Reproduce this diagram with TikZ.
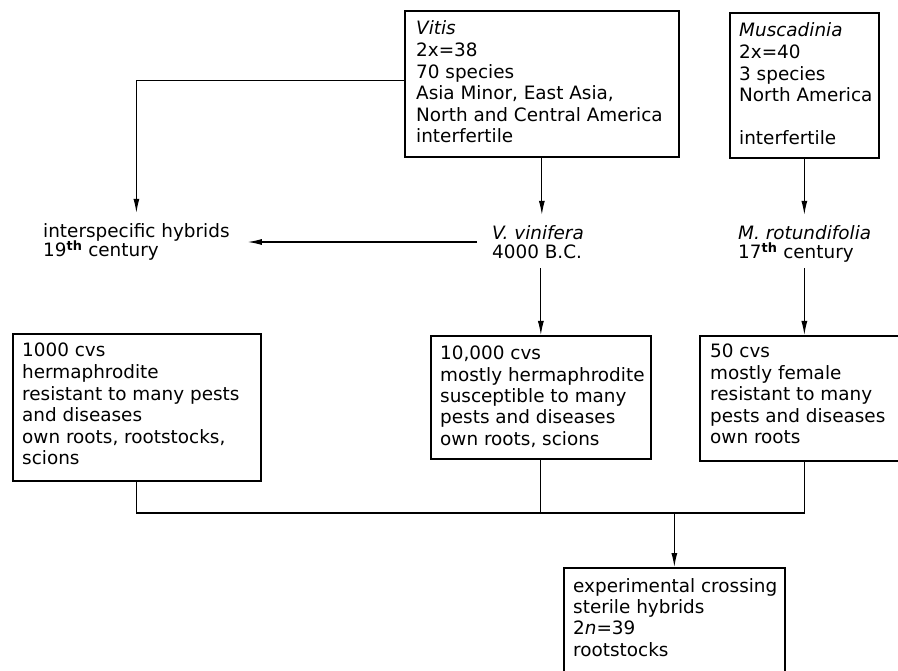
\documentclass[tikz,border=0pt]{standalone}
\usepackage{fontspec}
\setmainfont{DejaVu Sans}[ItalicFont={DejaVu Sans Oblique},BoldFont={DejaVu Sans Bold}]
\usetikzlibrary{arrows.meta,calc}
\newcommand\mlines[2]{\vtop{\baselineskip=#1\lineskiplimit=-50pt\lineskip=0pt\halign{##\hfil\cr#2\crcr}}}
\newcommand\supth{\textsuperscript{\bfseries th}}
\begin{document}
\begin{tikzpicture}[x=1pt,y=-1pt,
  boxnode/.style={draw,line width=1.7pt,inner sep=0pt,anchor=north west},
  txt/.style={inner sep=0pt,anchor=base west,font=\fontsize{18.4}{21.6}\selectfont},
  lbl/.style={inner xsep=15pt,inner ysep=0pt,anchor=base west,font=\fontsize{18.4}{21.6}\selectfont,text height=13pt,text depth=22pt},
  conn/.style={line width=1.1pt},
  arr/.style={conn,-{Latex[length=14pt,width=6pt]}}]
\useasboundingbox (0,0) rectangle (898,671);
\clip (0,0) rectangle (898,671);
\fill[white] (0,0) rectangle (898,671);

% boxes
\node[boxnode,minimum width=274pt,minimum height=146pt] (vitis) at (404,10) {};
\node[boxnode,minimum width=149pt,minimum height=145pt] (mus) at (729,12) {};
\node[boxnode,minimum width=248pt,minimum height=147pt] (b1000) at (12,333) {};
\node[boxnode,minimum width=220pt,minimum height=123pt] (b10k) at (430,335) {};
\node[boxnode,minimum width=202pt,minimum height=125pt] (b50) at (699,335) {};
\node[boxnode,minimum width=221pt,minimum height=110pt] (bexp) at (563,567) {};

% box texts
\node[txt] (vitisT) at (416,35) {\mlines{21.6pt}{\textit{Vitis}\cr 2x=38\cr 70 species\cr Asia Minor, East Asia,\cr North and Central America\cr interfertile}};
\node[txt] (musT) at (739,37) {\mlines{21.6pt}{\textit{Muscadinia}\cr 2x=40\cr 3 species\cr North America\cr \cr interfertile}};
\node[txt] (t1000) at (22,357) {\mlines{21.6pt}{1000 cvs\cr hermaphrodite\cr resistant to many pests\cr and diseases\cr own roots, rootstocks,\cr scions}};
\node[txt] (t10k) at (440,360) {\mlines{21.3pt}{10,000 cvs\cr mostly hermaphrodite\cr susceptible to many\cr pests and diseases\cr own roots, scions}};
\node[txt] (t50) at (710,358) {\mlines{21.5pt}{50 cvs\cr mostly female\cr resistant to many\cr pests and diseases\cr own roots}};
\node[txt] (texp) at (573,592) {\mlines{21.4pt}{experimental crossing\cr sterile hybrids\cr 2\textit{n}=39\cr rootstocks}};

% free labels
\node[lbl] (hyb) at (28,238) {\mlines{19pt}{interspecific hybrids\cr 19\supth{} century}};
\node[lbl] (vv) at (477,240) {\mlines{19pt}{\textit{V. vinifera}\cr 4000 B.C.}};
\node[lbl] (mr) at (723,240) {\mlines{19pt}{\textit{M. rotundifolia}\cr 17\supth{} century}};

% connectors
\draw[arr,shorten >=12pt] ([yshift=3pt]vitis.west) -| (hyb.north);
\draw[arr,shorten >=12pt] (vitis.south) -- (vitis.south |- vv.north);
\draw[arr,shorten >=3pt] ([yshift=2.5pt]vv.west) -- ([yshift=2.5pt]vv.west -| hyb.east);
\draw[arr,shorten >=12pt] (mus.south) -- (mus.south |- mr.north);
\draw[arr,shorten <=6pt] (b10k.north |- vv.south) -- (b10k.north);
\draw[arr,shorten <=6pt] (mus.south |- mr.south) -- (mus.south |- b50.north);
\coordinate (bus) at (bexp.north |- 0,513);
\draw[conn] (b1000.south) |- (mus.south |- bus) -- (mus.south |- b50.south);
\draw[conn] (b10k.south) -- (b10k.south |- bus);
\draw[arr] (bus) -- (bexp.north);
\end{tikzpicture}
\end{document}
